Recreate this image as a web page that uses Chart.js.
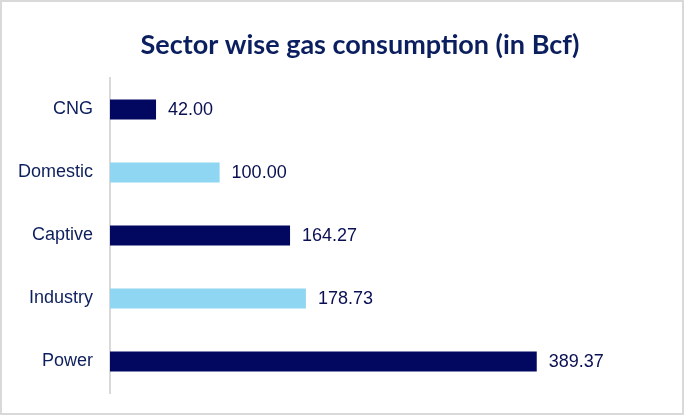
<!DOCTYPE html>
<html>
<head>
<meta charset="utf-8">
<script src="https://cdn.jsdelivr.net/npm/chart.js@4"></script>
<style>
  html, body { margin: 0; padding: 0; background: #fff; }
  .box { width: 684px; height: 415px; box-sizing: border-box; border: 2px solid #d9d9d9; }
  canvas { display: block; }
</style>
</head>
<body>
<div class="box"><canvas id="myChart" width="680" height="411"></canvas></div>
<script>
const ctx = document.getElementById('myChart');

// data
const sectors = ['CNG', 'Domestic', 'Captive', 'Industry', 'Power'];
const consumption = [42.00, 100.00, 164.27, 178.73, 389.37];
const barColors = ['#020860', '#8ed6f2', '#020860', '#8ed6f2', '#020860'];
const chartTitle = 'Sector wise gas consumption (in Bcf)';

// title sits a bit right of centre, like the original
const titleText = {
  id: 'titleText',
  afterDraw(chart) {
    const c = chart.ctx;
    c.save();
    c.font = 'bold 27px Lato, "Open Sans", sans-serif';
    c.fillStyle = '#0b1f5e';
    c.textAlign = 'center';
    c.textBaseline = 'middle';
    c.fillText(chartTitle, 358, 43);
    c.restore();
  }
};

// value labels at the end of each bar
const valueLabels = {
  id: 'valueLabels',
  afterDatasetsDraw(chart) {
    const c = chart.ctx;
    const meta = chart.getDatasetMeta(0);
    c.save();
    c.font = '18px "Liberation Sans", Arial, sans-serif';
    c.fillStyle = '#0a0f52';
    c.textBaseline = 'middle';
    c.textAlign = 'left';
    meta.data.forEach((bar, i) => {
      c.fillText(consumption[i].toFixed(2), bar.x + 12, bar.y + 1);
    });
    c.restore();
  }
};

new Chart(ctx, {
  type: 'bar',
  data: {
    labels: sectors,
    datasets: [{
      data: consumption,
      backgroundColor: barColors,
      barPercentage: 0.32,
      categoryPercentage: 1
    }]
  },
  options: {
    indexAxis: 'y',
    responsive: false,
    animation: false,
    layout: { padding: { left: 0, right: 24, top: 76, bottom: 20 } },
    plugins: {
      legend: { display: false },
      tooltip: { enabled: false },
      title: { display: false }
    },
    scales: {
      x: {
        display: false,
        min: 0,
        max: 500
      },
      y: {
        afterFit(scale) {
          scale.width = 108;
          scale.paddingTop = 0;
          scale.paddingBottom = 0;
        },
        grid: { display: false, drawTicks: false },
        border: { display: true, color: '#d9d9d9', width: 2 },
        ticks: {
          padding: 17,
          color: '#0d1f5c',
          font: { family: '"Liberation Sans", Arial, sans-serif', size: 18 }
        }
      }
    }
  },
  plugins: [valueLabels, titleText]
});
</script>
</body>
</html>
